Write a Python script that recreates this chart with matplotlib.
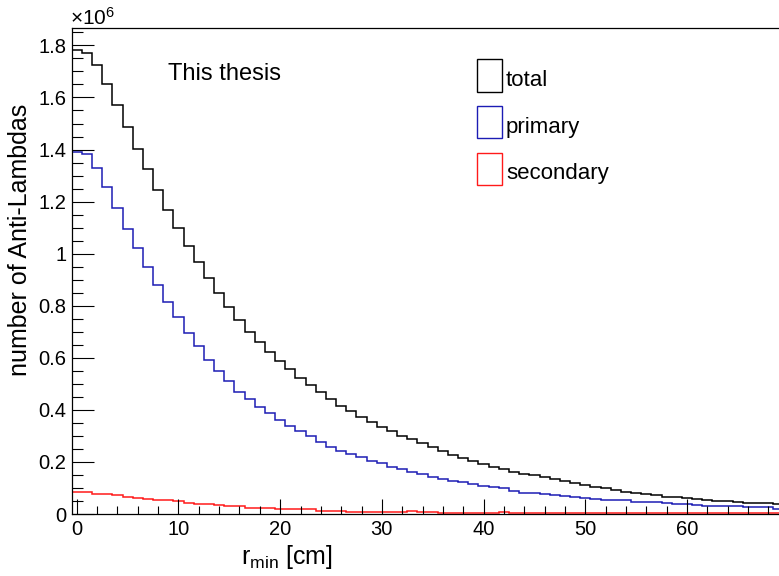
import numpy as np
import matplotlib
matplotlib.use("Agg")
import matplotlib.pyplot as plt
from matplotlib.patches import Rectangle
from matplotlib.ticker import MultipleLocator, FixedLocator, FixedFormatter

plt.rcParams['font.family'] = ['Liberation Sans', 'DejaVu Sans']
plt.rcParams['mathtext.fontset'] = 'custom'
plt.rcParams['mathtext.rm'] = 'Liberation Sans'
plt.rcParams['mathtext.it'] = 'Liberation Sans:italic'

# bin edges of r_min [cm], 1 cm bins centred on integers
edges = np.arange(-0.5, 70.5, 1.0)

# number of anti-lambdas per bin, in units of 1e6
total = [1.783, 1.772, 1.725, 1.652, 1.570, 1.487, 1.402, 1.324, 1.245, 1.168,
         1.100, 1.030, 0.967, 0.908, 0.848, 0.795, 0.745, 0.700, 0.662, 0.624,
         0.588, 0.556, 0.524, 0.496, 0.470, 0.442, 0.415, 0.396, 0.374, 0.355,
         0.336, 0.319, 0.301, 0.287, 0.272, 0.256, 0.242, 0.227, 0.214, 0.204,
         0.192, 0.182, 0.172, 0.163, 0.154, 0.148, 0.143, 0.134, 0.127, 0.120,
         0.111, 0.105, 0.099, 0.092, 0.086, 0.082, 0.077, 0.072, 0.067, 0.064,
         0.060, 0.056, 0.054, 0.051, 0.049, 0.046, 0.043, 0.041, 0.041, 0.038]
primary = [1.392, 1.382, 1.328, 1.256, 1.177, 1.095, 1.021, 0.950, 0.879, 0.813,
           0.757, 0.697, 0.644, 0.593, 0.549, 0.511, 0.470, 0.441, 0.412, 0.387,
           0.361, 0.338, 0.319, 0.300, 0.278, 0.259, 0.243, 0.230, 0.220, 0.205,
           0.195, 0.182, 0.173, 0.163, 0.154, 0.143, 0.134, 0.127, 0.122, 0.115,
           0.109, 0.103, 0.100, 0.089, 0.081, 0.079, 0.078, 0.073, 0.068, 0.066,
           0.061, 0.059, 0.055, 0.053, 0.052, 0.048, 0.046, 0.045, 0.042, 0.040,
           0.038, 0.035, 0.032, 0.031, 0.030, 0.029, 0.027, 0.026, 0.025, 0.018]
secondary = [0.083, 0.083, 0.077, 0.077, 0.072, 0.066, 0.061, 0.059, 0.054, 0.054,
             0.049, 0.043, 0.038, 0.038, 0.033, 0.030, 0.030, 0.024, 0.024, 0.024,
             0.019, 0.019, 0.019, 0.019, 0.013, 0.013, 0.013, 0.008, 0.008, 0.008,
             0.008, 0.008, 0.008, 0.013, 0.008, 0.008, 0.004, 0.004, 0.004, 0.004,
             0.004, 0.004, 0.008, 0.004, 0.004, 0.004, 0.003, 0.003, 0.003, 0.003,
             0.003, 0.003, 0.003, 0.003, 0.003, 0.003, 0.003, 0.003, 0.003, 0.003,
             0.003, 0.003, 0.003, 0.003, 0.003, 0.003, 0.003, 0.003, 0.003, 0.003]

series = ['total', 'primary', 'secondary']
colors = ['black', '#1c1cb4', '#ff1a1a']

yticks = [0, 0.2, 0.4, 0.6, 0.8, 1.0, 1.2, 1.4, 1.6, 1.8]
ylabels = ['0', '0.2', '0.4', '0.6', '0.8', '1', '1.2', '1.4', '1.6', '1.8']

W, H = 779, 576
fig = plt.figure(figsize=(W / 100, H / 100), dpi=100)
ax = fig.add_axes([71.7 / W, 1 - 514 / H, 1 - 71.7 / W, (514 - 27.7) / H])

for vals, c in zip([total, primary, secondary], colors):
    ax.stairs(vals, edges, color=c, lw=1.1)

ax.set_xlim(-0.5, 69.05)
ax.set_ylim(0, 1.868)

ax.xaxis.set_major_locator(MultipleLocator(10))
ax.xaxis.set_minor_locator(MultipleLocator(2))
ax.yaxis.set_major_locator(FixedLocator(yticks))
ax.yaxis.set_major_formatter(FixedFormatter(ylabels))
ax.yaxis.set_minor_locator(MultipleLocator(0.05))
ax.tick_params(axis='y', which='major', direction='in', length=15.5, width=0.8,
               labelsize=14.5, pad=4)
ax.tick_params(axis='y', which='minor', direction='in', length=8, width=0.8)
ax.tick_params(axis='x', which='major', direction='in', length=11, width=0.8,
               labelsize=14.5, pad=4)
ax.tick_params(axis='x', which='minor', direction='in', length=5.5, width=0.8)
ax.spines['right'].set_visible(False)
for s in ['left', 'bottom', 'top']:
    ax.spines[s].set_linewidth(0.9)

ax.set_ylabel('number of Anti-Lambdas', fontsize=18)
ax.yaxis.set_label_coords(-0.056, 0.563)
ax.set_xlabel(r'r$_{\mathrm{min}}$ [cm]', fontsize=18)
ax.xaxis.set_label_coords(0.304, -0.06)

fig.text(70 / W, 1 - 25 / H, r'$\times$10$^{6}$', fontsize=15, va='baseline')
fig.text(168 / W, 1 - 80 / H, 'This thesis', fontsize=17, va='baseline')

# legend with empty outlined boxes
box_top = [59.3, 105.7, 152.7]
text_base = [86, 132.7, 179.3]
for name, c, bt, tb in zip(series, colors, box_top, text_base):
    fig.patches.append(Rectangle((476.7 / W, 1 - (bt + 32.5) / H), 25 / W, 32.5 / H,
                                 transform=fig.transFigure, fill=False,
                                 edgecolor=c, lw=1.0))
    fig.text(506 / W, 1 - tb / H, name, fontsize=16, va='baseline')

fig.savefig('out.png', dpi=100)
